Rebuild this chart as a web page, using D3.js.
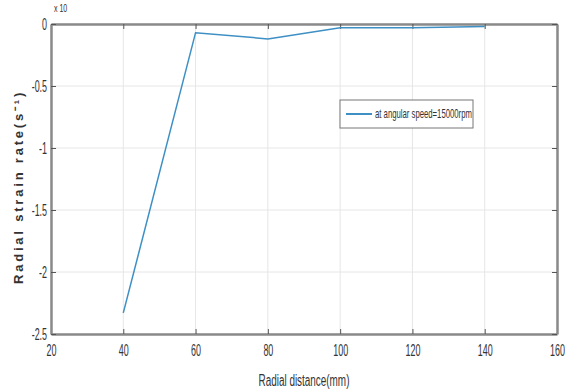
<!DOCTYPE html>
<html>
<head>
<meta charset="utf-8">
<script src="https://cdn.jsdelivr.net/npm/d3@7"></script>
<style>
body { margin:0; background:#fff; }
text { font-family: "Liberation Sans", Arial, sans-serif; fill:#333; }
</style>
</head>
<body>
<svg id="graph1"></svg>
<script>
var distances = [40, 60, 80, 100, 120, 140]
var strainRates = [-2.33, -0.07, -0.12, -0.03, -0.03, -0.02]
var xTicks = [20, 40, 60, 80, 100, 120, 140, 160]
var yTicks = [0, -0.5, -1, -1.5, -2, -2.5]
var seriesName = "at angular speed=15000rpm"

var svgw = 566
var svgh = 391
var margins = {left: 51, top: 24, right: 9, bottom: 57}
var graphDim = {width: svgw - margins.left - margins.right, height: svgh - margins.top - margins.bottom}

var svg = d3.select("#graph1").attr("width", svgw).attr("height", svgh)

var xscale = d3.scaleLinear().domain([20, 160]).range([margins.left, margins.left + graphDim.width])
var yscale = d3.scaleLinear().domain([-2.5, 0]).range([margins.top + graphDim.height, margins.top])

// grid
svg.append("g").selectAll("line")
    .data(xTicks)
    .enter().append("line")
    .attr("x1", function(d){return xscale(d)})
    .attr("x2", function(d){return xscale(d)})
    .attr("y1", margins.top)
    .attr("y2", margins.top + graphDim.height)
    .attr("stroke", "#e6e6e6")
svg.append("g").selectAll("line")
    .data(yTicks)
    .enter().append("line")
    .attr("y1", function(d){return yscale(d)})
    .attr("y2", function(d){return yscale(d)})
    .attr("x1", margins.left)
    .attr("x2", margins.left + graphDim.width)
    .attr("stroke", "#e6e6e6")

// axes
var xAxis = d3.axisBottom(xscale).tickValues(xTicks).tickSizeInner(-5).tickSizeOuter(0).tickPadding(11)
    .tickFormat(function(d){return String(d)})
var gx = svg.append("g").attr("transform", "translate(0," + (margins.top + graphDim.height) + ")").call(xAxis)
var xTop = d3.axisTop(xscale).tickValues(xTicks).tickSizeInner(-5).tickSizeOuter(0).tickFormat("")
var gxt = svg.append("g").attr("transform", "translate(0," + margins.top + ")").call(xTop)
var yAxis = d3.axisLeft(yscale).tickValues(yTicks).tickSizeInner(-5).tickSizeOuter(0).tickPadding(7)
    .tickFormat(function(d){return String(d)})
var gy = svg.append("g").attr("transform", "translate(" + margins.left + ",0)").call(yAxis)
var yRight = d3.axisRight(yscale).tickValues(yTicks).tickSizeInner(-5).tickSizeOuter(0).tickFormat("")
var gyr = svg.append("g").attr("transform", "translate(" + (margins.left + graphDim.width) + ",0)").call(yRight)

;[gx, gxt, gy, gyr].forEach(function(g){
    g.select(".domain").attr("stroke", "#8a8a8a").attr("stroke-width", 2.5)
    g.selectAll(".tick line").attr("stroke", "#555")
    g.selectAll("text")
        .style("font-size", "16px")
        .attr("fill", "#333")
        .attr("transform", "scale(0.56,1)")
})

// exponent label
svg.append("text")
    .attr("transform", "translate(" + (margins.left + 3) + ",12) scale(0.7,1)")
    .style("font-size", "10px")
    .attr("fill", "#555")
    .text("x 10")

// line
var line = d3.line()
    .x(function(d,i){return xscale(distances[i])})
    .y(function(d){return yscale(d)})
svg.append("path")
    .datum(strainRates)
    .attr("d", line)
    .attr("fill", "none")
    .attr("stroke", "#3d8fc4")
    .attr("stroke-width", 1.5)

// labels
svg.append("text")
    .attr("text-anchor", "middle")
    .attr("transform", "translate(" + (margins.left + graphDim.width / 2) + ",386) scale(0.62,1)")
    .style("font-size", "16px")
    .attr("fill", "#222")
    .text("Radial distance(mm)")
svg.append("text")
    .attr("transform", "translate(23," + (margins.top + graphDim.height / 2 + 8) + ") rotate(-90)")
    .attr("text-anchor", "middle")
    .style("font-size", "13px")
    .style("font-weight", "bold")
    .style("letter-spacing", "2.8px")
    .attr("fill", "#555")
    .text("Radial strain rate(s⁻¹)")

// legend
var legend = svg.append("g").attr("transform", "translate(340,100)")
legend.append("rect")
    .attr("width", 133)
    .attr("height", 28)
    .attr("fill", "#fff")
    .attr("stroke", "#777")
legend.append("line")
    .attr("x1", 6).attr("x2", 32)
    .attr("y1", 14).attr("y2", 14)
    .attr("stroke", "#3d8fc4")
    .attr("stroke-width", 2)
legend.append("text")
    .attr("transform", "translate(35,18) scale(0.62,1)")
    .style("font-size", "12.5px")
    .attr("fill", "#222")
    .text(seriesName)
</script>
</body>
</html>
